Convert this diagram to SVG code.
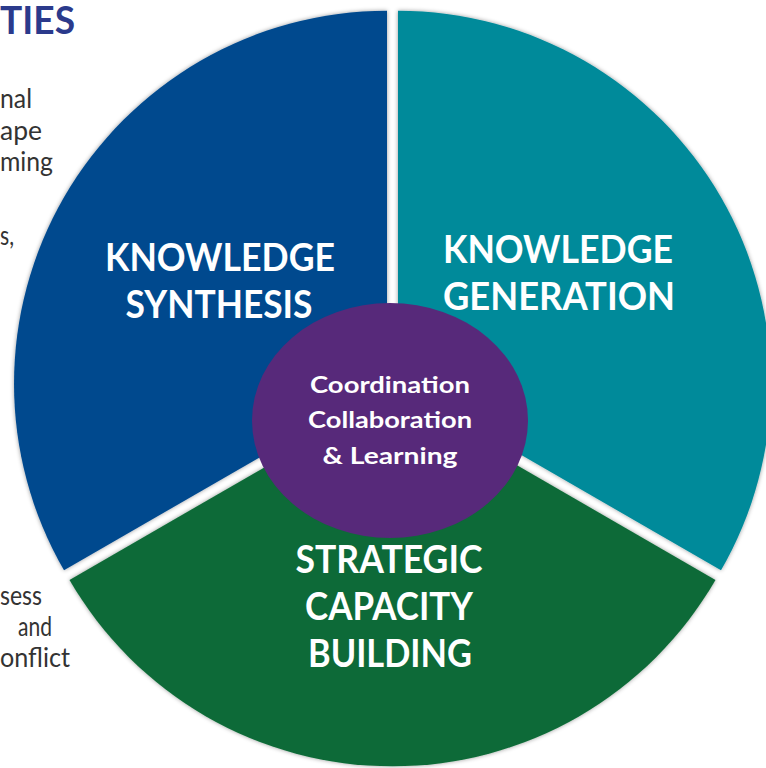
<svg xmlns="http://www.w3.org/2000/svg" width="766" height="768" viewBox="0 0 766 768">
<defs>
<filter id="sh" x="-10%" y="-10%" width="120%" height="120%">
<feDropShadow dx="0" dy="0" stdDeviation="2" flood-color="#000" flood-opacity="0.4"/>
</filter>
<style>
.seg{filter:url(#sh);}
.big{font-family:Lato,"Open Sans","Liberation Sans",sans-serif;font-weight:bold;font-size:38px;fill:#fff;text-anchor:middle;}
.mid{font-family:Lato,"Open Sans","Liberation Sans",sans-serif;font-weight:bold;font-size:23px;fill:#fff;text-anchor:middle;}
.body{font-family:Lato,"Open Sans","Liberation Sans",sans-serif;font-size:27px;fill:#333333;}
.title{font-family:Lato,"Open Sans","Liberation Sans",sans-serif;font-weight:bold;font-size:38px;fill:#2B3A8C;}
</style>
</defs>
<rect width="766" height="768" fill="#fff"/>
<g id="side-text">
<text class="title" x="0" y="34" textLength="75" lengthAdjust="spacingAndGlyphs">TIES</text>
<text class="body" x="0" y="108" textLength="32" lengthAdjust="spacingAndGlyphs">nal</text>
<text class="body" x="0" y="140" textLength="42" lengthAdjust="spacingAndGlyphs">ape</text>
<text class="body" x="0" y="171" textLength="53" lengthAdjust="spacingAndGlyphs">ming</text>
<text class="body" x="0" y="245" textLength="14" lengthAdjust="spacingAndGlyphs">s,</text>
<text class="body" x="0" y="605" textLength="42" lengthAdjust="spacingAndGlyphs">sess</text>
<text class="body" x="18" y="636" textLength="34" lengthAdjust="spacingAndGlyphs">and</text>
<text class="body" x="0" y="667" textLength="70" lengthAdjust="spacingAndGlyphs">onflict</text>
</g>
<g id="synthesis">
<path class="seg" d="M387 383.8 L387 10.8 A373 373 0 0 0 64 570.3 Z" fill="#044A8E"/>
<text class="big" x="220" y="271" textLength="230" lengthAdjust="spacingAndGlyphs">KNOWLEDGE</text>
<text class="big" x="219" y="318" textLength="187" lengthAdjust="spacingAndGlyphs">SYNTHESIS</text>
</g>
<g id="generation">
<path class="seg" d="M398 383.8 L398 10.8 A373 373 0 0 1 721 570.3 Z" fill="#008A9A"/>
<text class="big" x="558" y="263" textLength="230" lengthAdjust="spacingAndGlyphs">KNOWLEDGE</text>
<text class="big" x="559" y="310" textLength="232" lengthAdjust="spacingAndGlyphs">GENERATION</text>
</g>
<g id="capacity">
<path class="seg" d="M392.5 393.4 L715.5 579.9 A373 373 0 0 1 69.5 579.9 Z" fill="#0C6B37"/>
<text class="big" x="389" y="573" textLength="187" lengthAdjust="spacingAndGlyphs">STRATEGIC</text>
<text class="big" x="389" y="620" textLength="168" lengthAdjust="spacingAndGlyphs">CAPACITY</text>
<text class="big" x="390" y="667" textLength="164" lengthAdjust="spacingAndGlyphs">BUILDING</text>
</g>
<g id="center">
<ellipse cx="390" cy="420.5" rx="138" ry="117.5" fill="#57297A"/>
<text class="mid" x="390" y="393" textLength="160" lengthAdjust="spacingAndGlyphs">Coordination</text>
<text class="mid" x="390" y="428" textLength="164" lengthAdjust="spacingAndGlyphs">Collaboration</text>
<text class="mid" x="390" y="464" textLength="135" lengthAdjust="spacingAndGlyphs">&amp; Learning</text>
</g>
<g id="connectors"/>
</svg>
